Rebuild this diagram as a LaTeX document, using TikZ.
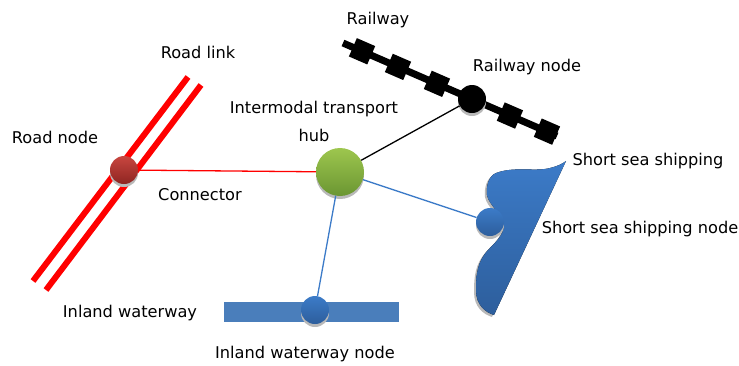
\documentclass[tikz,border=0pt]{standalone}
\usepackage{fontspec}
\setmainfont{DejaVu Sans}
\usetikzlibrary{positioning,shadows}
\definecolor{roadred}{HTML}{FF0000}
\definecolor{seablue}{HTML}{3C7BC8}
\definecolor{deepblue}{HTML}{2D5E9C}
\definecolor{hubtop}{HTML}{9DC64E}
\definecolor{hubbot}{HTML}{6B9632}
\definecolor{rnodetop}{HTML}{C8463F}
\definecolor{rnodebot}{HTML}{8E2522}
\definecolor{waterblue}{HTML}{4A7EBB}

\begin{document}
\begin{tikzpicture}[x=1pt,y=-1pt,
  lbl/.style={font=\fontsize{16.2}{20}\selectfont, inner sep=0pt},
  ball/.style={circle, inner sep=0pt, minimum size=#1,
    drop shadow={shadow xshift=0pt, shadow yshift=-3pt, fill=gray!55, opacity=1}},
  roadlink/.style={roadred, line width=6pt},
  railtie/.style={fill=black, inner sep=0pt, minimum width=20pt, minimum height=20pt},
  link/.style={line width=1.3pt}]
  \useasboundingbox (0,0) rectangle (739,365);

  % road link
  \coordinate (rlA1) at (33,281);
  \coordinate (rlB1) at (188,77);
  \coordinate (rlA2) at (46,290);
  \coordinate (rlB2) at (201,85);
  \draw[roadlink] (rlA1) -- (rlB1);
  \draw[roadlink] (rlA2) -- (rlB2);

  % railway
  \coordinate (rwA) at (343,43);
  \coordinate (rwB) at (557,136);
  \draw[line width=7pt] (rwA) -- (rwB);
  \foreach \p in {0.089,0.257,0.439,0.780,0.953}
    \path (rwA) -- (rwB) node[railtie, sloped, pos=\p] {};

  % inland waterway
  \node[fill=waterblue, minimum width=175pt, minimum height=20pt, inner sep=0pt] (iwlink) at (311.5,312) {};

  % short sea shipping
  \fill[top color=seablue, bottom color=deepblue,
    drop shadow={shadow xshift=-2pt, shadow yshift=-2pt, fill=gray!55, opacity=1}]
    (496,173) .. controls (515,166) and (535,172) .. (550,168)
    .. controls (558,166) and (562,164) .. (566,161) -- (494,315)
    .. controls (485,312) and (476,305) .. (476,290)
    .. controls (476,275) and (477,262) .. (488,250)
    .. controls (498,240) and (506,232) .. (503,222)
    .. controls (500,212) and (489,205) .. (487,195)
    .. controls (486,185) and (489,176) .. (496,173) -- cycle;

  % nodes
  \node[ball=28pt, top color=rnodetop, bottom color=rnodebot] (roadnode) at (124,170) {};
  \node[ball=48pt, top color=hubtop, bottom color=hubbot] (hub) at (340,172) {};
  \node[ball=28pt, fill=black] (railnode) at (472,99) {};
  \node[ball=28pt, top color=seablue, bottom color=deepblue] (ssnode) at (490,222) {};
  \node[ball=28pt, top color=seablue, bottom color=deepblue] (iwnode) at (315,310) {};

  % connectors
  \draw[link, roadred] (roadnode) -- (hub);
  \draw[link, black] (hub) -- (railnode);
  \draw[link, seablue] (hub) -- (ssnode);
  \draw[link, seablue] (hub) -- (iwnode);

  % labels
  \node[lbl] (railwaylbl) at (378,20) {Railway};
  \node[lbl] (roadlinklbl) at (198,52) {Road link};
  \node[lbl] (railnodelbl) at (527,67) {Railway node};
  \node[lbl, align=center, font=\fontsize{16.2}{28}\selectfont] (hublbl) at (314,121) {Intermodal transport\\hub};
  \node[lbl] (roadnodelbl) at (55,137) {Road node};
  \node[lbl] (connectorlbl) at (200,195) {Connector};
  \node[lbl] (sealbl) at (648,161) {Short sea shipping};
  \node[lbl] (ssnodelbl) at (640,229) {Short sea shipping node};
  \node[lbl] (iwlbl) at (130,313) {Inland waterway};
  \node[lbl] (iwnodelbl) at (305,354) {Inland waterway node};
\end{tikzpicture}
\end{document}
